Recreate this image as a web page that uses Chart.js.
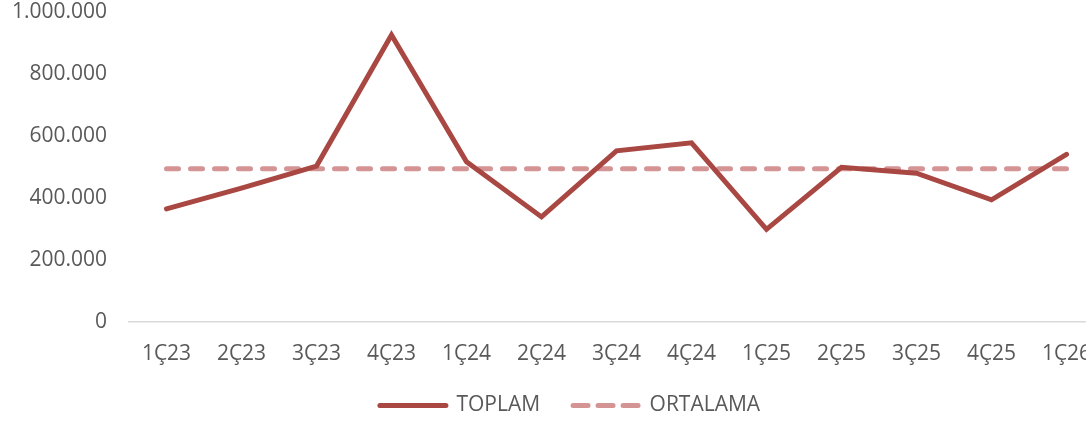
<!DOCTYPE html>
<html>
<head>
<meta charset="utf-8">
<script src="https://cdn.jsdelivr.net/npm/chart.js@4.4.1/dist/chart.umd.min.js"></script>
<style>
  html, body { margin: 0; padding: 0; background: #ffffff; overflow: hidden; }
  #wrap { position: relative; width: 1104px; height: 426px; }
</style>
</head>
<body>
<div id="wrap"><canvas id="c"></canvas></div>
<script>
const categories = ['1Ç23','2Ç23','3Ç23','4Ç23','1Ç24','2Ç24','3Ç24','4Ç24','1Ç25','2Ç25','3Ç25','4Ç25','1Ç26'];
const toplam = [365000, 432000, 503000, 926000, 517000, 339000, 552000, 578000, 299000, 499000, 480000, 394000, 541000];
const ortalama = [494000, 494000, 494000, 494000, 494000, 494000, 494000, 494000, 494000, 494000, 494000, 494000, 494000];
const yTicks = [0, 200000, 400000, 600000, 800000, 1000000];

function fmt(v) {
  return String(v).replace(/\B(?=(\d{3})+(?!\d))/g, '.');
}

const FONT = "'Open Sans', sans-serif";
const TXT = '#595959';
const C_TOPLAM = '#A94743';
const C_ORT = '#D59494';

// give the axis labels room outside their tight layout boxes (so they are not clipped)
const labelRoom = {
  id: 'labelRoom',
  afterLayout(chart) {
    const y = chart.scales.y;
    y.left = 0;
    y.width = y.right;
    const x = chart.scales.x;
    x.bottom = x.bottom + 10;
    x.height = x.bottom - x.top;
  }
};

new Chart(document.getElementById('c'), {
  type: 'line',
  data: {
    labels: categories,
    datasets: [
      {
        label: 'TOPLAM',
        data: toplam,
        borderColor: C_TOPLAM,
        backgroundColor: C_TOPLAM,
        borderWidth: 5,
        borderCapStyle: 'round',
        borderJoinStyle: 'miter',
        pointRadius: 0,
        pointHoverRadius: 0,
        tension: 0,
        fill: false
      },
      {
        label: 'ORTALAMA',
        data: ortalama,
        borderColor: C_ORT,
        backgroundColor: C_ORT,
        borderWidth: 5,
        borderDash: [12, 12],
        borderCapStyle: 'round',
        pointRadius: 0,
        pointHoverRadius: 0,
        tension: 0,
        fill: false
      }
    ]
  },
  plugins: [labelRoom],
  options: {
    responsive: true,
    maintainAspectRatio: false,
    animation: false,
    devicePixelRatio: 1,
    layout: { padding: { top: 0, right: 0, left: 36, bottom: 0 } },
    plugins: {
      tooltip: { enabled: false },
      legend: {
        position: 'bottom',
        labels: {
          usePointStyle: true,
          pointStyle: 'line',
          pointStyleWidth: 66,
          padding: 33,
          color: TXT,
          font: { family: FONT, size: 21 },
          generateLabels: (chart) => {
            const items = Chart.defaults.plugins.legend.labels.generateLabels(chart);
            items.forEach((it, i) => {
              const ds = chart.data.datasets[i];
              it.strokeStyle = ds.borderColor;
              it.fillStyle = ds.borderColor;
              it.lineWidth = 5;
              it.lineCap = 'round';
              it.pointStyle = 'line';
              it.lineDash = ds.borderDash ? [15, 10] : [];
            });
            return items;
          }
        }
      }
    },
    scales: {
      x: {
        offset: true,
        grid: { display: true, color: 'transparent', drawTicks: false },
        border: { display: true, color: '#D9D9D9', width: 1.5 },
        ticks: {
          color: TXT,
          font: { family: FONT, size: 21 },
          padding: 19,
          maxRotation: 0,
          autoSkip: false
        },
        afterFit: (s) => { s.height = 40; s.paddingLeft = 0; s.paddingRight = 0; }
      },
      y: {
        min: 0,
        max: 1000000,
        afterBuildTicks: (scale) => { scale.ticks = yTicks.map(v => ({ value: v })); },
        grid: { display: false, drawTicks: false },
        border: { display: false },
        ticks: {
          color: TXT,
          font: { family: FONT, size: 21 },
          padding: 22,
          callback: (v) => fmt(v)
        },
        afterFit: (s) => { s.width = 93; s.paddingTop = 12; s.paddingBottom = 0; }
      }
    }
  }
});
</script>
</body>
</html>
